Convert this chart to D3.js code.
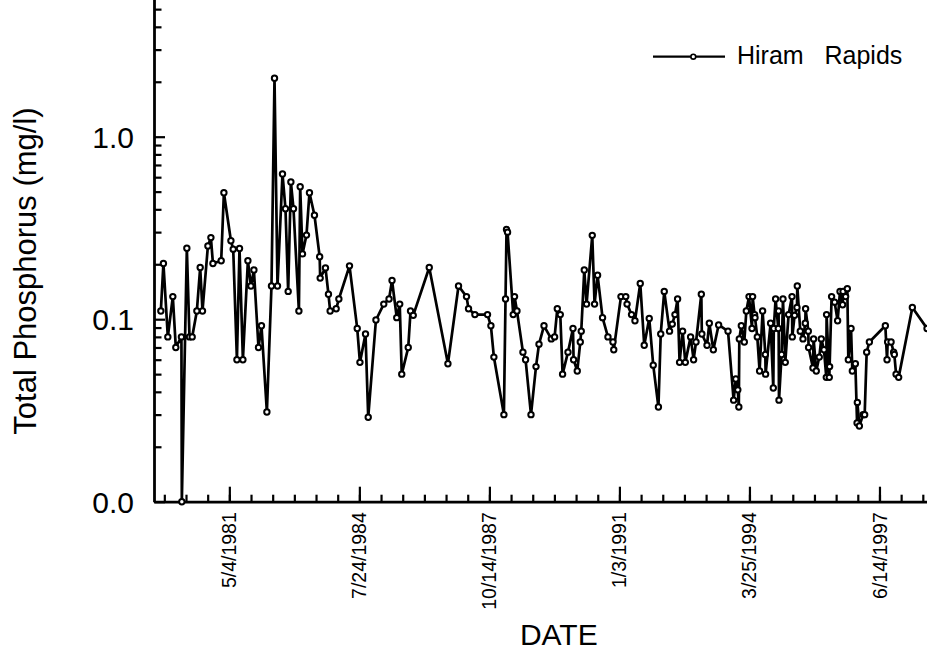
<!DOCTYPE html>
<html>
<head>
<meta charset="utf-8">
<script src="https://cdn.jsdelivr.net/npm/d3@7"></script>
<style>
  body { margin: 0; background: #fff; }
  svg { display: block; }
  text { font-family: "Liberation Sans", Arial, Helvetica, sans-serif; fill: #000; }
</style>
</head>
<body>
<svg id="chart" width="927" height="649"></svg>
<script>
// Sampling dates (decimal years) and total phosphorus concentrations (mg/l)
const sampleYear = [
  1979.641, 1979.705, 1979.814, 1979.938, 1980.012, 1980.151, 1980.161, 1980.285, 1980.350, 1980.417,
  1980.533, 1980.615, 1980.672, 1980.806, 1980.880, 1980.930, 1981.135, 1981.202, 1981.376, 1981.433,
  1981.525, 1981.589, 1981.673, 1981.797, 1981.872, 1981.946, 1982.060, 1982.134, 1982.268, 1982.382,
  1982.457, 1982.531, 1982.655, 1982.729, 1982.796, 1982.863, 1982.928, 1983.062, 1983.094, 1983.151,
  1983.250, 1983.324, 1983.448, 1983.577, 1983.590, 1983.721, 1983.795, 1983.837, 1983.986, 1984.053,
  1984.316, 1984.507, 1984.574, 1984.712, 1984.779, 1984.970, 1985.164, 1985.295, 1985.369, 1985.486,
  1985.560, 1985.610, 1985.771, 1985.828, 1985.895, 1986.292, 1986.755, 1987.018, 1987.216, 1987.266,
  1987.424, 1987.737, 1987.821, 1987.895, 1988.143, 1988.183, 1988.208, 1988.233, 1988.374, 1988.406,
  1988.466, 1988.614, 1988.679, 1988.813, 1988.937, 1989.011, 1989.135, 1989.316, 1989.398, 1989.465,
  1989.539, 1989.596, 1989.730, 1989.854, 1989.869, 1989.960, 1990.035, 1990.059, 1990.134, 1990.191,
  1990.332, 1990.389, 1990.464, 1990.587, 1990.721, 1990.845, 1990.865, 1991.044, 1991.163, 1991.195,
  1991.306, 1991.391, 1991.522, 1991.621, 1991.745, 1991.844, 1991.973, 1992.030, 1992.117, 1992.248,
  1992.315, 1992.382, 1992.447, 1992.496, 1992.571, 1992.638, 1992.769, 1992.843, 1992.903, 1993.034,
  1993.047, 1993.175, 1993.232, 1993.332, 1993.463, 1993.696, 1993.835, 1993.889, 1993.939, 1993.964,
  1993.976, 1994.026, 1994.100, 1994.150, 1994.217, 1994.291, 1994.306, 1994.355, 1994.365, 1994.422,
  1994.479, 1994.554, 1994.621, 1994.628, 1994.752, 1994.819, 1994.831, 1994.876, 1994.943, 1994.950,
  1994.960, 1995.025, 1995.059, 1995.116, 1995.198, 1995.283, 1995.290, 1995.347, 1995.406, 1995.414,
  1995.488, 1995.555, 1995.612, 1995.620, 1995.687, 1995.694, 1995.803, 1995.818, 1995.885, 1995.959,
  1996.009, 1996.076, 1996.133, 1996.140, 1996.207, 1996.215, 1996.264, 1996.339, 1996.413, 1996.472,
  1996.537, 1996.547, 1996.611, 1996.653, 1996.678, 1996.745, 1996.777, 1996.852, 1996.894, 1996.901,
  1996.951, 1997.043, 1997.082, 1997.132, 1997.199, 1997.595, 1997.637, 1997.652, 1997.737, 1997.801,
  1997.818, 1997.861, 1997.925, 1998.265, 1998.629, 1998.959
];
const totalP = [
  0.111, 0.202, 0.080, 0.133, 0.070, 0.080, 0.010, 0.245, 0.080, 0.080,
  0.111, 0.192, 0.111, 0.252, 0.280, 0.202, 0.209, 0.493, 0.269, 0.242,
  0.060, 0.244, 0.060, 0.209, 0.152, 0.186, 0.070, 0.092, 0.031, 0.152,
  2.090, 0.152, 0.625, 0.403, 0.142, 0.565, 0.403, 0.111, 0.532, 0.228,
  0.289, 0.493, 0.371, 0.220, 0.168, 0.191, 0.137, 0.111, 0.114, 0.129,
  0.196, 0.089, 0.058, 0.083, 0.029, 0.099, 0.121, 0.129, 0.163, 0.102,
  0.121, 0.050, 0.070, 0.111, 0.105, 0.192, 0.057, 0.152, 0.133, 0.114,
  0.106, 0.106, 0.092, 0.062, 0.030, 0.129, 0.310, 0.300, 0.106, 0.133,
  0.111, 0.066, 0.060, 0.030, 0.055, 0.073, 0.092, 0.078, 0.080, 0.114,
  0.106, 0.050, 0.066, 0.089, 0.060, 0.052, 0.075, 0.086, 0.186, 0.121,
  0.288, 0.121, 0.174, 0.102, 0.080, 0.075, 0.068, 0.133, 0.133, 0.121,
  0.106, 0.098, 0.157, 0.072, 0.101, 0.056, 0.033, 0.083, 0.142, 0.086,
  0.094, 0.106, 0.129, 0.058, 0.086, 0.058, 0.080, 0.060, 0.075, 0.137,
  0.083, 0.072, 0.095, 0.068, 0.093, 0.086, 0.036, 0.047, 0.041, 0.033,
  0.078, 0.092, 0.075, 0.111, 0.133, 0.089, 0.133, 0.106, 0.102, 0.080,
  0.052, 0.111, 0.064, 0.050, 0.095, 0.042, 0.089, 0.129, 0.089, 0.111,
  0.036, 0.064, 0.129, 0.058, 0.106, 0.133, 0.080, 0.105, 0.116, 0.152,
  0.086, 0.078, 0.095, 0.114, 0.086, 0.070, 0.054, 0.078, 0.052, 0.062,
  0.078, 0.068, 0.048, 0.106, 0.048, 0.055, 0.133, 0.124, 0.098, 0.142,
  0.120, 0.142, 0.133, 0.147, 0.060, 0.089, 0.052, 0.057, 0.027, 0.035,
  0.026, 0.030, 0.030, 0.066, 0.075, 0.092, 0.060, 0.075, 0.075, 0.066,
  0.064, 0.050, 0.048, 0.116, 0.089, 0.080
];

// Axis labels and ranges
const dateTickLabels = ["5/4/1981", "7/24/1984", "10/14/1987", "1/3/1991", "3/25/1994", "6/14/1997"];
const dateRange = ["6/22/1979", "6/22/1999"];
const concTicks = [0.01, 0.1, 1];
const concRange = [0.01, 10];
const seriesName = "Hiram   Rapids";
const xTitle = "DATE";
const yTitle = "Total Phosphorus (mg/l)";

const parseMDY = d3.utcParse("%m/%d/%Y");
function yearToDate(y) {
  const Y = Math.floor(y);
  const a = Date.UTC(Y, 0, 1), b = Date.UTC(Y + 1, 0, 1);
  return new Date(a + (y - Y) * (b - a));
}

const data = sampleYear.map((yr, i) => ({ date: yearToDate(yr), value: totalP[i] }));

const svg = d3.select("#chart");
const x = d3.scaleUtc().domain(dateRange.map(parseMDY)).range([154, 961]);
const y = d3.scaleLog().domain(concRange).range([501.7, -45.8]);

const axisColor = "#000";

// ---- X axis: major ticks every 1177 days, six minor intervals between them ----
const majorDates = dateTickLabels.map(parseMDY);
const step = (majorDates[1] - majorDates[0]) / 6;
const minorDates = [];
for (let t = +majorDates[0]; t >= +x.domain()[0]; t -= step) minorDates.push(new Date(t));
for (let t = +majorDates[0] + step; t <= +x.domain()[1]; t += step) minorDates.push(new Date(t));

const gx = svg.append("g").attr("transform", `translate(0,${y(concRange[0])})`);
gx.call(d3.axisBottom(x).tickValues(minorDates).tickSizeInner(-7).tickSizeOuter(0).tickFormat(""));
gx.append("g").call(d3.axisBottom(x).tickValues(majorDates).tickSizeInner(-15).tickSizeOuter(0).tickFormat(""))
  .select(".domain").remove();
gx.selectAll("path.domain").attr("stroke", axisColor).attr("stroke-width", 2.8);
gx.selectAll(".tick line").attr("stroke", axisColor).attr("stroke-width", 2.2);

gx.selectAll("text.xlabel")
  .data(majorDates)
  .enter().append("text")
  .attr("class", "xlabel")
  .attr("transform", d => `translate(${x(d)},10.5) rotate(-90)`)
  .attr("dy", "0.36em")
  .attr("text-anchor", "end")
  .style("font-size", "19.5px")
  .text((d, i) => dateTickLabels[i]);

// ---- Y axis (log) ----
const minorConc = y.ticks().filter(v => !concTicks.some(c => Math.abs(c - v) < 1e-9));
const gy = svg.append("g").attr("transform", `translate(${x.range()[0]},0)`);
gy.call(d3.axisLeft(y).tickValues(minorConc).tickSizeInner(-7.5).tickSizeOuter(0).tickFormat(""));
gy.append("g").call(d3.axisLeft(y).tickValues(concTicks).tickSizeInner(-11).tickSizeOuter(0).tickFormat(""))
  .select(".domain").remove();
gy.selectAll("path.domain").attr("stroke", axisColor).attr("stroke-width", 2.8);
gy.selectAll(".tick line").attr("stroke", axisColor).attr("stroke-width", 2.2);

gy.selectAll("text.ylabel")
  .data(concTicks)
  .enter().append("text")
  .attr("class", "ylabel")
  .attr("x", -20)
  .attr("y", d => y(d))
  .attr("dy", "0.36em")
  .attr("text-anchor", "end")
  .style("font-size", "30px")
  .text(d => d3.format(".1f")(d));

// ---- Axis titles ----
svg.append("text")
  .attr("transform", `translate(36,271) rotate(-90)`)
  .attr("text-anchor", "middle")
  .style("font-size", "31px")
  .text(yTitle);

svg.append("text")
  .attr("x", 558.8)
  .attr("y", 644.5)
  .attr("text-anchor", "middle")
  .style("font-size", "30px")
  .text(xTitle);

// ---- Series ----
const line = d3.line().x(d => x(d.date)).y(d => y(d.value));
svg.append("path")
  .datum(data)
  .attr("d", line)
  .attr("fill", "none")
  .attr("stroke", "#000")
  .attr("stroke-width", 2.7)
  .attr("stroke-linejoin", "round");

svg.append("g").selectAll("circle")
  .data(data)
  .enter().append("circle")
  .attr("cx", d => x(d.date))
  .attr("cy", d => y(d.value))
  .attr("r", 2.7)
  .attr("fill", "#fff")
  .attr("stroke", "#000")
  .attr("stroke-width", 2);

// ---- Legend ----
const lg = svg.append("g").attr("transform", "translate(653,56.7)");
lg.append("line").attr("x1", 0).attr("x2", 72).attr("y1", 0).attr("y2", 0)
  .attr("stroke", "#000").attr("stroke-width", 2.2);
lg.append("circle").attr("cx", 40.3).attr("cy", 0).attr("r", 2.4)
  .attr("fill", "#fff").attr("stroke", "#000").attr("stroke-width", 1.6);
lg.append("text")
  .attr("x", 84).attr("y", 7.6)
  .style("font-size", "25px")
  .style("white-space", "pre")
  .text(seriesName);
</script>
</body>
</html>
